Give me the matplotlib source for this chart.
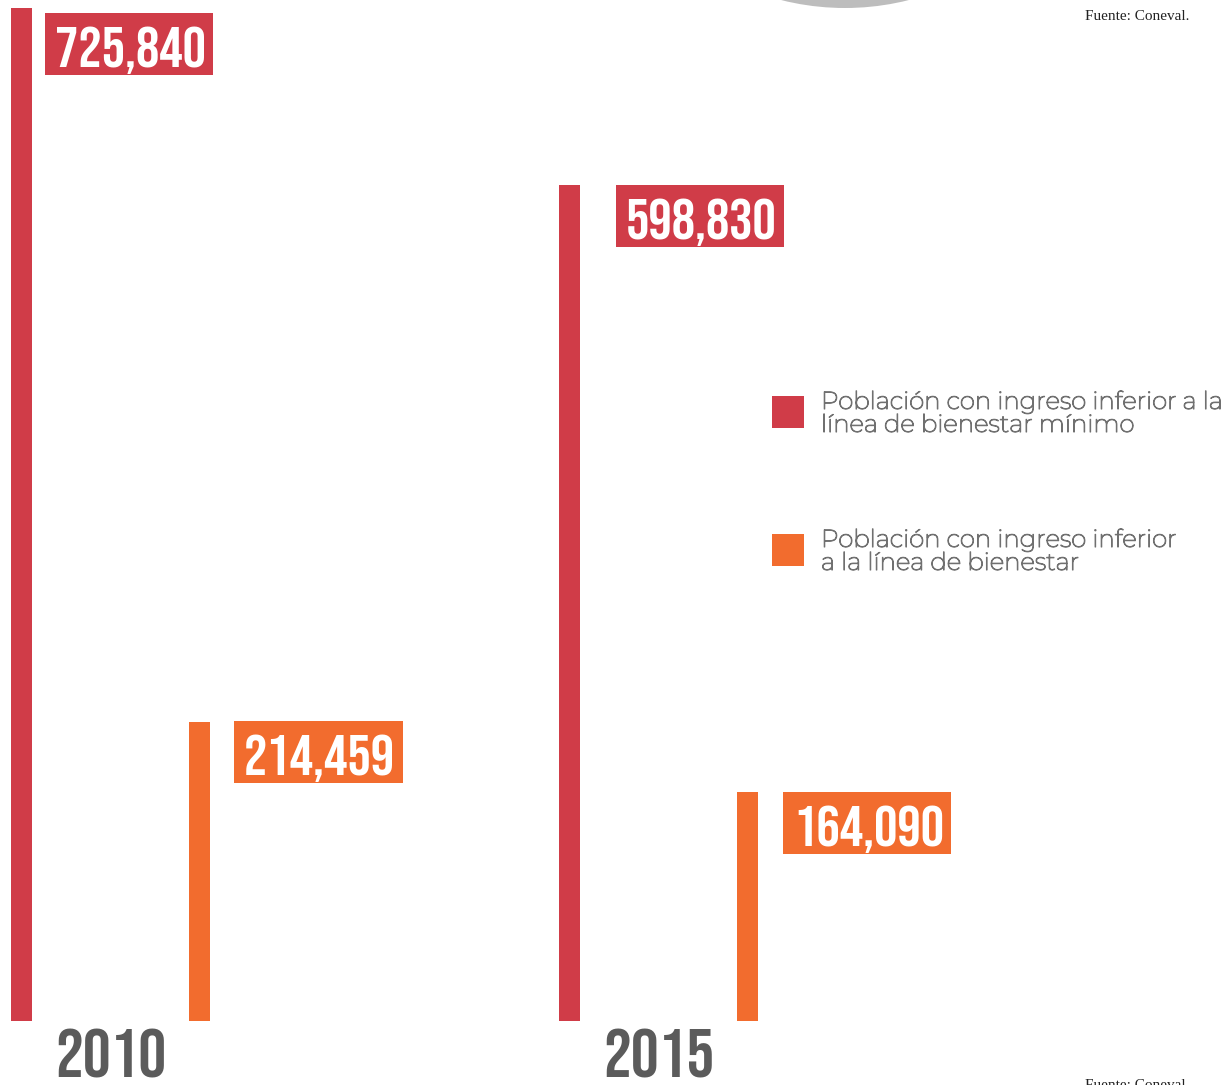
import matplotlib.pyplot as plt
from matplotlib.patches import Circle, Rectangle
import matplotlib.patheffects as pe

years = ["2010", "2015"]
minimo = [725840, 598830]      # línea de bienestar mínimo
bienestar = [214459, 164090]   # línea de bienestar
legend_labels = ["Población con ingreso inferior a la\nlínea de bienestar mínimo",
                 "Población con ingreso inferior\na la línea de bienestar"]

RED = "#d03c48"
ORANGE = "#f26c2e"
GREY = "#5b5b5b"
BEBAS = ["Bebas Neue", "Oswald", "DejaVu Sans"]

W, H = 1231, 1085
fig = plt.figure(figsize=(W / 100, H / 100), dpi=100)

# capa de fondo en pixeles (circulo, cajas, leyenda, fuente)
bg = fig.add_axes([0, 0, 1, 1])
bg.set_xlim(0, W)
bg.set_ylim(H, 0)
bg.axis("off")
bg.add_patch(Circle((845, -253), 261, color="#bdbdbd", lw=0))

ax = fig.add_axes([0, 64 / H, 1, 1013 / H])
ax.set_facecolor("none")
span = 548
ax.set_xlim(-21.5 / span, (W - 21.5) / span)
ax.set_ylim(0, max(minimo))
ax.axis("off")

bw = 21 / span
off = 178.5 / span
xs = list(range(len(years)))
ax.bar(xs, minimo, width=bw, color=RED)
ax.bar([x + off for x in xs], bienestar, width=bw, color=ORANGE)


def to_px(x, y):
    dx, dy = ax.transData.transform((x, y))
    return dx, H - dy


# etiquetas de valor: caja de color junto a cada barra
gap = [(13, 24), (36, 25)]
drop = [(5, -1), (0, 0)]
for i, x in enumerate(xs):
    for j, (vals, col) in enumerate([(minimo, RED), (bienestar, ORANGE)]):
        px, py = to_px(x + j * off + bw / 2, vals[i])
        bx, by = px + gap[i][j], py + drop[i][j]
        bg.add_patch(Rectangle((bx, by), 168, 62, color=col, lw=0, zorder=3))
        bg.text(bx + 85, by + 54, f"{vals[i]:,}", ha="center", va="baseline",
                family=BEBAS, fontsize=42, color="white", zorder=4)
    cx, cy = to_px(x + off / 2, 0)
    bg.text(cx, cy + 57, years[i], ha="center", va="baseline",
            family=BEBAS, fontsize=50, color=GREY)

for k, (lab, col) in enumerate(zip(legend_labels, [RED, ORANGE])):
    y0 = 396 + k * 138
    bg.add_patch(Rectangle((772, y0), 32, 32, color=col, lw=0))
    bg.text(821, y0 + 36, lab, ha="left", va="baseline", fontsize=17.6,
            family=["Montserrat", "Open Sans", "DejaVu Sans"], color="#707070",
            linespacing=1.0,
            path_effects=[pe.withStroke(linewidth=0.8, foreground="#707070")])

bg.text(1085, 20, "Fuente: Coneval.", ha="left", va="baseline", fontsize=11,
        family="Liberation Serif", color="#222222")
bg.text(1085, 1089, "Fuente: Coneval.", ha="left", va="baseline", fontsize=11,
        family="Liberation Serif", color="#222222")

fig.savefig("out.png", dpi=100)
